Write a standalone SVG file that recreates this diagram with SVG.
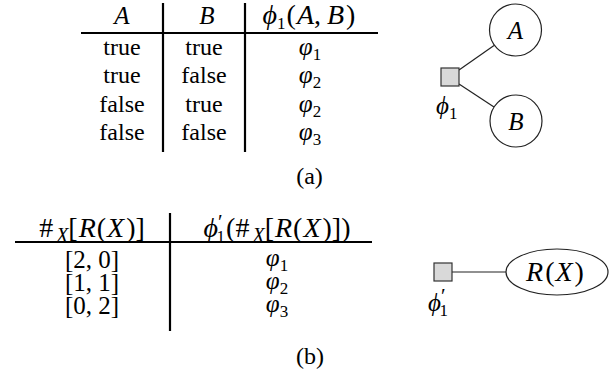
<svg xmlns="http://www.w3.org/2000/svg" width="613" height="386" viewBox="0 0 613 386" font-family="'Liberation Serif', 'Times New Roman', 'DejaVu Serif', serif">
<style>
text{font-family:'Liberation Serif','Times New Roman','DejaVu Serif',serif;fill:#000}
.t{font-size:24px}
.m{font-size:25px;font-style:italic}
.h{font-size:28px;font-style:italic}
.r{font-style:normal}
.sub{font-size:17px;font-style:normal}
.pr{font-size:21px;font-style:normal}
.rule{stroke:#000;stroke-width:2.2;fill:none}
.edge{stroke:#222;stroke-width:1.2;fill:none}
.var{fill:#fff;stroke:#222;stroke-width:1.2}
.fac{fill:#d9d9d9;stroke:#333;stroke-width:1.2}
.c{text-anchor:middle}
</style>
<g id="table-a">
<line class="rule" x1="81" y1="33" x2="378" y2="33"/>
<line class="rule" x1="163" y1="3" x2="163" y2="152"/>
<line class="rule" x1="245" y1="3" x2="245" y2="152"/>
<text class="m c" x="122" y="24">A</text>
<text class="m c" x="207" y="24">B</text>
<text class="h c" x="309" y="24" font-size="27">ϕ<tspan class="sub" dy="5">1</tspan><tspan class="r" dy="-5" dx="1">(</tspan><tspan dx="1">A</tspan><tspan class="r">,</tspan><tspan dx="6">B</tspan><tspan class="r" dx="2">)</tspan></text>
<text class="t c" x="122" y="55">true</text>
<text class="t c" x="204" y="55">true</text>
<text class="m c" x="310" y="55">φ<tspan class="sub" dy="5">1</tspan></text>
<text class="t c" x="122" y="83">true</text>
<text class="t c" x="204" y="83">false</text>
<text class="m c" x="310" y="83">φ<tspan class="sub" dy="5">2</tspan></text>
<text class="t c" x="122" y="112">false</text>
<text class="t c" x="204" y="112">true</text>
<text class="m c" x="310" y="112">φ<tspan class="sub" dy="5">2</tspan></text>
<text class="t c" x="122" y="140">false</text>
<text class="t c" x="204" y="140">false</text>
<text class="m c" x="310" y="140">φ<tspan class="sub" dy="5">3</tspan></text>
</g>
<g id="connectors">
<line class="edge" x1="459" y1="70" x2="494" y2="45.5"/>
<line class="edge" x1="459" y1="84" x2="494" y2="107"/>
<line class="edge" x1="452" y1="272" x2="506" y2="272"/>
</g>
<g id="node-A">
<circle class="var" cx="515.5" cy="30" r="26"/>
<text class="m c" x="515.5" y="39">A</text>
</g>
<g id="node-B">
<circle class="var" cx="516" cy="121" r="26"/>
<text class="m c" x="516" y="130">B</text>
</g>
<g id="factor-phi1">
<rect class="fac" x="441" y="68" width="18" height="18"/>
<text class="m" x="436" y="114">ϕ<tspan class="sub" dy="5">1</tspan></text>
</g>
<text class="t c" x="309.5" y="184">(a)</text>
<g id="table-b">
<line class="rule" x1="15" y1="242" x2="372" y2="242"/>
<line class="rule" x1="170" y1="213" x2="170" y2="331"/>
<text class="h c" x="92" y="237"><tspan class="r">#</tspan><tspan font-size="20" dy="5" dx="3">X</tspan><tspan class="r" dy="-5">[</tspan><tspan dx="1">R</tspan><tspan class="r" dx="1">(</tspan><tspan dx="1">X</tspan><tspan class="r" dx="2">)]</tspan></text>
<text class="h c" x="277" y="237">ϕ<tspan class="pr" dy="-8">′</tspan><tspan class="sub" dx="-6" dy="13">1</tspan><tspan class="r" dy="-5" dx="1">(#</tspan><tspan font-size="20" dy="5" dx="3">X</tspan><tspan class="r" dy="-5">[</tspan><tspan dx="1">R</tspan><tspan class="r" dx="1">(</tspan><tspan dx="1">X</tspan><tspan class="r" dx="2">)])</tspan></text>
<text class="m r c" x="92" y="268">[2, 0]</text>
<text class="m r c" x="92" y="291">[1, 1]</text>
<text class="m r c" x="92" y="314">[0, 2]</text>
<text class="m c" x="277" y="266">φ<tspan class="sub" dy="5">1</tspan></text>
<text class="m c" x="277" y="289">φ<tspan class="sub" dy="5">2</tspan></text>
<text class="m c" x="277" y="312">φ<tspan class="sub" dy="5">3</tspan></text>
</g>
<g id="factor-phi1p">
<rect class="fac" x="434" y="263" width="18" height="18"/>
<text class="m" x="428" y="311">ϕ<tspan class="pr" dy="-8">′</tspan><tspan class="sub" dx="-6" dy="13">1</tspan></text>
</g>
<g id="node-RX">
<ellipse class="var" cx="557" cy="272" rx="51" ry="23"/>
<text class="h c" x="555" y="281"><tspan>R</tspan><tspan class="r" dx="2">(</tspan><tspan dx="1">X</tspan><tspan class="r" dx="2">)</tspan></text>
</g>
<text class="t c" x="310" y="364">(b)</text>
</svg>
